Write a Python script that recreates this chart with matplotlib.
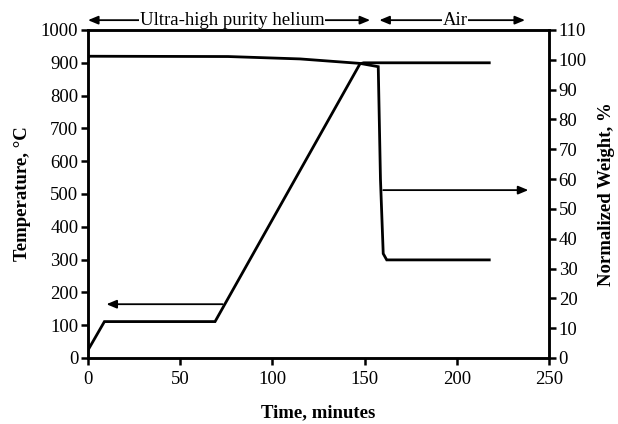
import matplotlib
matplotlib.use("Agg")
import matplotlib.pyplot as plt

# Data
temp_time = [0, 8.9, 68.9, 147.5, 149.5, 217.6]
temp_vals = [24, 111, 111, 897, 900, 900]

wt_time = [0, 1.0, 76, 115, 147.5, 157.4, 158.6, 160.1, 162, 217.6]
wt_vals = [100.8, 101.2, 101.1, 100.3, 98.8, 97.7, 60.0, 35.0, 32.9, 32.9]

x_ticks = [0, 50, 100, 150, 200, 250]
temp_ticks = list(range(0, 1001, 100))
wt_ticks = list(range(0, 111, 10))

plt.rcParams['font.family'] = ['Liberation Serif', 'DejaVu Serif']

fig = plt.figure(figsize=(6.18, 4.24), dpi=100)
ax = fig.add_axes([88/618, 66/424, 461/618, 328/424])
ax2 = ax.twinx()

ax.plot(temp_time, temp_vals, color='black', lw=2.0, solid_joinstyle='miter')
ax2.plot(wt_time, wt_vals, color='black', lw=2.0, solid_joinstyle='miter')

ax.set_xlim(0, 250)
ax.set_ylim(0, 1000)
ax2.set_ylim(0, 110)
ax.set_xticks(x_ticks)
ax.set_yticks(temp_ticks)
ax2.set_yticks(wt_ticks)

for a in (ax, ax2):
    for s in a.spines.values():
        s.set_linewidth(1.8)
    a.tick_params(direction='out', length=5, width=1.8, labelsize=13.5, pad=2)

ax.tick_params(axis='x', pad=4)
ax.set_xlabel('Time, minutes', fontsize=13.5, fontweight='bold', labelpad=12)
ax.set_ylabel('Temperature, °C', fontsize=13.5, fontweight='bold', labelpad=7)
ax2.set_ylabel('Normalized Weight, %', fontsize=13.5, fontweight='bold', labelpad=8)

head = dict(arrowstyle='-|>,head_length=0.6,head_width=0.25', color='black', lw=1.3, shrinkA=0, shrinkB=0)
ax.annotate('', xy=(10, 164), xytext=(73, 164), arrowprops=head)
ax2.annotate('', xy=(238.8, 56.3), xytext=(160.1, 56.3), arrowprops=head)

both = dict(arrowstyle='<|-|>,head_length=0.6,head_width=0.25', color='black', lw=1.3, shrinkA=0, shrinkB=0)
ytop = 1030
ax.annotate('', xy=(0, ytop), xytext=(153, ytop), arrowprops=both, annotation_clip=False)
ax.annotate('', xy=(158, ytop), xytext=(237, ytop), arrowprops=both, annotation_clip=False)
ax.text(78, ytop, 'Ultra-high purity helium', ha='center', va='center', fontsize=13.5,
        bbox=dict(facecolor='white', edgecolor='none', pad=0.5), clip_on=False)
ax.text(199, ytop, 'Air', ha='center', va='center', fontsize=13.5,
        bbox=dict(facecolor='white', edgecolor='none', pad=0.5), clip_on=False)

fig.savefig('out.png', dpi=100)
